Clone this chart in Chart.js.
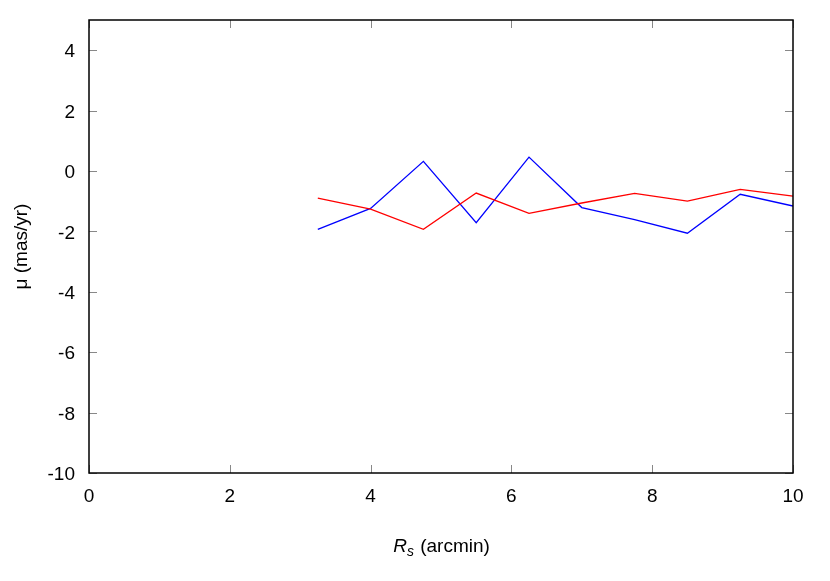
<!DOCTYPE html>
<html lang="en">
<head>
    <meta charset="UTF-8">
    <title>mu vs Rs</title>
    <script src="https://cdn.jsdelivr.net/npm/chart.js"></script>
    <style>
        body { margin: 0; background: #fff; }
        #wrap { width: 830px; height: 581px; }
    </style>
</head>
<body>
    <div id="wrap"><canvas id="myChart" width="830" height="581"></canvas></div>

    <script>
        // radius bins (arcmin) and the two proper motion curves (mas/yr)
        const radius = [3.25, 4, 4.75, 5.5, 6.25, 7, 7.75, 8.5, 9.25, 10];
        const muRed  = [-0.9, -1.26, -1.93, -0.73, -1.4, -1.06, -0.74, -1.0, -0.61, -0.83];
        const muBlue = [-1.93, -1.24, 0.32, -1.71, 0.46, -1.21, -1.61, -2.06, -0.77, -1.16];

        const xTicks = [0, 2, 4, 6, 8, 10];
        const yTicks = [-10, -8, -6, -4, -2, 0, 2, 4];

        const FONT = '"Liberation Sans", Arial, sans-serif';

        // frame, inward ticks on all four sides, axis titles
        const framePlugin = {
            id: 'frame',
            afterDraw(chart) {
                const ctx = chart.ctx;
                const a = chart.chartArea;
                const xs = chart.scales.x, ys = chart.scales.y;
                ctx.save();
                ctx.strokeStyle = '#888';
                ctx.lineWidth = 1;
                ctx.beginPath();
                xTicks.forEach(v => {
                    const px = Math.round(xs.getPixelForValue(v)) + 0.5;
                    ctx.moveTo(px, a.bottom); ctx.lineTo(px, a.bottom - 8);
                    ctx.moveTo(px, a.top); ctx.lineTo(px, a.top + 8);
                });
                yTicks.forEach(v => {
                    const py = Math.round(ys.getPixelForValue(v)) + 0.5;
                    ctx.moveTo(a.left, py); ctx.lineTo(a.left + 8, py);
                    ctx.moveTo(a.right, py); ctx.lineTo(a.right - 8, py);
                });
                ctx.stroke();

                ctx.strokeStyle = '#000';
                ctx.lineWidth = 1.5;
                ctx.strokeRect(a.left, a.top, a.right - a.left, a.bottom - a.top);

                // x title: italic R with subscript s
                ctx.fillStyle = '#000';
                ctx.textBaseline = 'alphabetic';
                ctx.font = 'italic 19px ' + FONT;
                const r = 'R', s = 's', rest = ' (arcmin)';
                const wR = ctx.measureText(r).width;
                ctx.font = 'italic 14px ' + FONT;
                const wS = ctx.measureText(s).width;
                ctx.font = '19px ' + FONT;
                const wRest = ctx.measureText(rest).width;
                let x0 = (a.left + a.right) / 2 - (wR + wS + wRest) / 2;
                const yb = 552;
                ctx.font = 'italic 19px ' + FONT;
                ctx.fillText(r, x0, yb);
                ctx.font = 'italic 14px ' + FONT;
                ctx.fillText(s, x0 + wR, yb + 4);
                ctx.font = '19px ' + FONT;
                ctx.fillText(rest, x0 + wR + wS + 1, yb);

                // y title
                ctx.translate(22, (a.top + a.bottom) / 2);
                ctx.rotate(-Math.PI / 2);
                ctx.textAlign = 'center';
                ctx.textBaseline = 'middle';
                ctx.fillText('\u03bc (mas/yr)', 0, 0);
                ctx.restore();
            }
        };

        const ctx = document.getElementById('myChart').getContext('2d');

        const myChart = new Chart(ctx, {
            type: 'line',
            data: {
                datasets: [
                    {
                        label: 'red',
                        data: radius.map((r, i) => ({ x: r, y: muRed[i] })),
                        borderColor: '#ff0000',
                        borderWidth: 1.3,
                        pointRadius: 0,
                        fill: false,
                    },
                    {
                        label: 'blue',
                        data: radius.map((r, i) => ({ x: r, y: muBlue[i] })),
                        borderColor: '#0000ff',
                        borderWidth: 1.3,
                        pointRadius: 0,
                        fill: false,
                    }
                ]
            },
            options: {
                responsive: false,
                animation: false,
                layout: { padding: { top: 20, right: 37, left: 0, bottom: 0 } },
                plugins: {
                    legend: { display: false },
                    tooltip: { enabled: false }
                },
                scales: {
                    x: {
                        type: 'linear',
                        min: 0,
                        max: 10,
                        grid: { display: false },
                        border: { display: false },
                        afterBuildTicks: s => { s.ticks = xTicks.map(v => ({ value: v })); },
                        afterFit: s => { s.height = 108; },
                        ticks: {
                            color: '#000',
                            padding: 4,
                            maxRotation: 0,
                            font: { family: FONT, size: 19 }
                        }
                    },
                    y: {
                        type: 'linear',
                        min: -10,
                        max: 5,
                        grid: { display: false },
                        border: { display: false },
                        afterBuildTicks: s => { s.ticks = yTicks.map(v => ({ value: v })); },
                        afterFit: s => { s.width = 89; },
                        ticks: {
                            color: '#000',
                            padding: 6,
                            labelOffset: 2,
                            font: { family: FONT, size: 19 }
                        }
                    }
                }
            },
            plugins: [framePlugin]
        });
    </script>
</body>
</html>
